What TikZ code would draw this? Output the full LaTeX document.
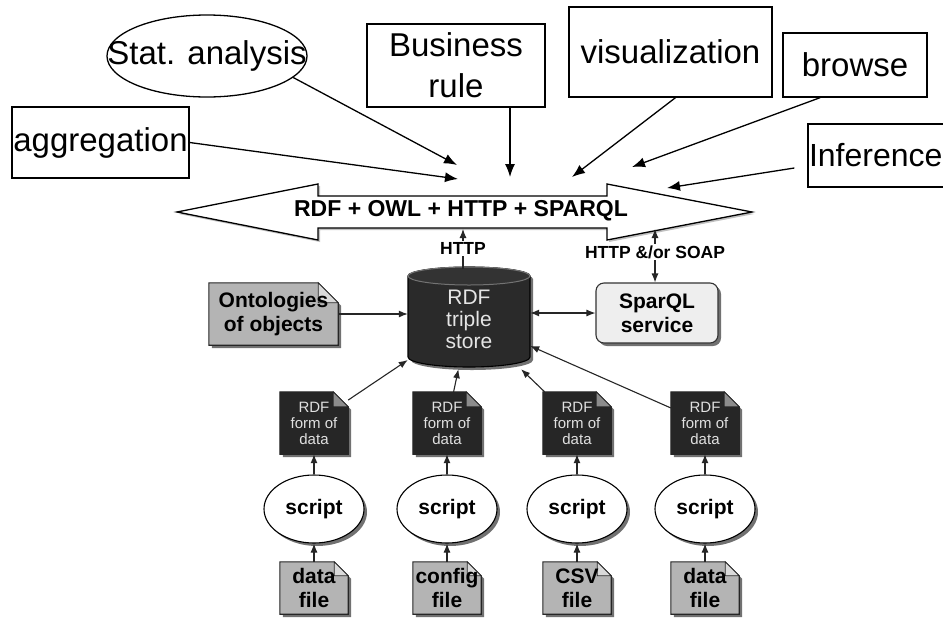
\documentclass[tikz,border=0pt]{standalone}
\usepackage{fontspec}
\setmainfont{Liberation Sans}
\usetikzlibrary{arrows.meta,shapes.geometric,shadows,backgrounds,calc}
\definecolor{docgray}{HTML}{B4B4B4}
\definecolor{foldgray}{HTML}{DADADA}
\definecolor{darkdoc}{HTML}{262626}
\definecolor{darkfold}{HTML}{8C8C8C}
\definecolor{cylbody}{HTML}{2A2A2A}
\definecolor{cyltop}{HTML}{333333}
\definecolor{sparqlfill}{HTML}{EEEEEE}
\begin{document}
\begin{tikzpicture}[x=1pt, y=-1pt,
  topbox/.style={draw, line width=1.3pt, inner sep=0pt, align=center, font=\fontsize{33}{41}\selectfont},
  toptext/.style={inner sep=0pt, font=\fontsize{33}{41}\selectfont},
  toparrow/.style={line width=1.3pt, -{Latex[length=13pt,width=10pt]}},
  lowarrow/.style={line width=1.1pt, draw=black!85, -{Latex[length=9pt,width=7pt]}},
  twoway/.style={line width=1.1pt, draw=black!85, {Latex[length=9pt,width=7pt]}-{Latex[length=9pt,width=7pt]}},
  doctext/.style={font=\bfseries\fontsize{21}{24}\selectfont, align=center, inner sep=0pt},
  darktext/.style={font=\fontsize{15}{16}\selectfont, text=black!12, align=center, inner sep=0pt},
  lbl/.style={font=\bfseries\fontsize{17.5}{19}\selectfont, fill=white, inner sep=1.5pt},
  shade3/.style={drop shadow={shadow xshift=3pt, shadow yshift=-3pt, opacity=0.85, fill=black!65}},
]
\useasboundingbox (0,0) rectangle (943,619);
\begin{scope}[on background layer]
  \fill[white] (0,0) rectangle (943,619);
\end{scope}
\clip (0,0) rectangle (943,619);

% ---------- clients above the bus ----------
\node[draw, line width=1.3pt, ellipse, minimum width=200pt, minimum height=82pt, inner sep=0pt] (stat) at (207,56) {};
\node[toptext] (stattext) at (stat) {Stat. analysis};
\node[topbox, minimum width=177pt, minimum height=71pt] (agg) at (100.5,142.5) {aggregation};
\node[topbox, minimum width=178pt, minimum height=83pt] (busi) at (456,65.5) {Business\\rule};
\node[topbox, minimum width=203pt, minimum height=90pt] (vis) at (670.5,52) {visualization};
\node[topbox, minimum width=144pt, minimum height=64pt] (brow) at (855,65) {browse};
\node[topbox, font=\fontsize{32}{40}\selectfont, minimum width=152pt, minimum height=63pt, text width=150pt, align=left] (inf) at (884,155.5) {Inference};

\coordinate (tStat) at (457,165);
\coordinate (tAgg) at (458,179);
\coordinate (tBus) at (510,177);
\coordinate (tVis) at (572,177);
\coordinate (tBrow) at (632,167);
\coordinate (tInf) at (667,188);

\draw[toparrow] (stat.-14) -- (tStat);
\draw[toparrow] (agg.east) -- (tAgg);
\draw[toparrow] (busi.south -| tBus) -- (tBus);
\draw[toparrow] ($(vis.south)+(5,0)$) -- (tVis);
\draw[toparrow] ($(brow.south west)!0.26!(brow.south east)$) -- (tBrow);
\draw[toparrow] ($(inf.west)+(-13,12.5)$) -- (tInf);

% ---------- the bus ----------
\path[draw, line width=1.3pt, fill=white, drop shadow={shadow xshift=2pt, shadow yshift=-2pt, fill=black!35, opacity=0.7}]
  (177,212) -- (318,184) -- (318,196) -- (607,196) -- (607,184) -- (752,212)
  -- (607,240) -- (607,228) -- (318,228) -- (318,240) -- cycle;
\node[font=\bfseries\fontsize{23}{25}\selectfont, inner sep=0pt] (bus) at (461,211) {RDF + OWL + HTTP + SPARQL};
\coordinate (bHTTP) at (463,229);
\coordinate (bSOAP) at (655,229);

% ---------- store and services ----------
\node[doctext, minimum width=129pt, minimum height=62pt] (onto) at (273.5,314) {Ontologies\\of objects};
\node[minimum width=122pt, minimum height=100pt, inner sep=0pt, font=\fontsize{21}{22}\selectfont, text=black!10, align=center] (cyl) at (469,319) {RDF\\triple\\store};
\node[doctext, draw=black!80, line width=1.1pt, fill=sparqlfill, rounded corners=8pt, shade3, minimum width=122pt, minimum height=60pt] (spq) at (657,313) {SparQL\\service};

% ---------- converted data, scripts and sources ----------
\foreach \n/\x in {A/314, B/447, C/577, D/705} {
  \node[darktext, minimum width=68pt, minimum height=62pt] (rdf\n) at (\x,423) {RDF\\form of\\data};
  \node[doctext, draw, ellipse, line width=1.1pt, fill=white, shade3, minimum width=100pt, minimum height=68pt] (scr\n) at (\x,509) {script};
}
\node[doctext, minimum width=68pt, minimum height=52pt] (datA) at (314,588) {data\\file};
\node[doctext, minimum width=68pt, minimum height=52pt] (datB) at (447,588) {config\\file};
\node[doctext, minimum width=68pt, minimum height=52pt] (datC) at (577,588) {CSV\\file};
\node[doctext, minimum width=68pt, minimum height=52pt] (datD) at (705,588) {data\\file};

% document outlines with a folded corner, and the cylinder body
\begin{scope}[on background layer]
  \foreach \n/\c/\k/\f in {onto/docgray/foldgray/20pt, datA/docgray/foldgray/14pt, datB/docgray/foldgray/14pt,
                           datC/docgray/foldgray/14pt, datD/docgray/foldgray/14pt,
                           rdfA/darkdoc/darkfold/15pt, rdfB/darkdoc/darkfold/15pt,
                           rdfC/darkdoc/darkfold/15pt, rdfD/darkdoc/darkfold/15pt} {
    \path[draw=black!85, line width=1.1pt, fill=\c, shade3]
      (\n.north west) -- ([xshift=-\f]\n.north east) -- ([yshift=-\f]\n.north east)
      -- (\n.south east) -- (\n.south west) -- cycle;
    \path[draw=black!85, line width=0.8pt, fill=\k]
      ([xshift=-\f]\n.north east) -- ([xshift=-\f, yshift=-\f]\n.north east) -- ([yshift=-\f]\n.north east) -- cycle;
  }
  \path[draw=black, line width=1.1pt, fill=cylbody, shade3]
    (408,276) -- (408,357) arc[start angle=180, end angle=0, x radius=61, y radius=10]
    -- (530,276) arc[start angle=0, end angle=-180, x radius=61, y radius=9] -- cycle;
  \draw[line width=1pt, draw=black!55, fill=cyltop] (469,276) ellipse[x radius=61, y radius=9];
\end{scope}

% ---------- connectors ----------
\draw[lowarrow] (cyl.north -| bHTTP) -- (bHTTP) node[lbl, pos=0.5] (httplbl) {HTTP};
\draw[twoway] (spq.north -| bSOAP) -- (bSOAP) node[lbl, pos=0.57] (soaplbl) {HTTP \&/or SOAP};
\draw[lowarrow] (onto.east) -- (onto.east -| cyl.west);
\draw[twoway] (cyl.east |- spq.west) -- (spq.west);
\foreach \n in {A,B,C,D} {
  \draw[lowarrow] (dat\n.north) -- (scr\n.south);
  \draw[lowarrow] (scr\n.north) -- (rdf\n.south);
  \draw[lowarrow] (rdf\n) -- (cyl);
}
\end{tikzpicture}
\end{document}
